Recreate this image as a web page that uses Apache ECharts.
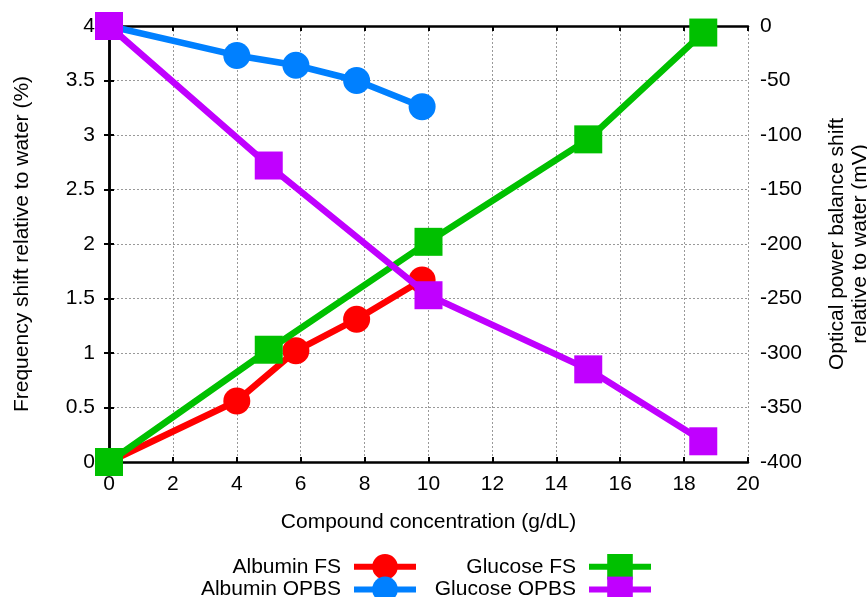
<!DOCTYPE html>
<html><head><meta charset="utf-8">
<script src="https://cdn.jsdelivr.net/npm/echarts@6/dist/echarts.min.js"></script>
<style>html,body{margin:0;padding:0;background:#fff}#c{width:867px;height:597px}</style>
</head><body><div id="c"></div>
<script>
const albuminX = [0, 4.0, 5.85, 7.75, 9.8];
const albuminFS = [0, 0.56, 1.02, 1.31, 1.67];
const albuminOPBS = [0, -27, -36, -50, -74];
const glucoseX = [0, 5, 10, 15, 18.6];
const glucoseFS = [0, 1.03, 2.02, 2.96, 3.94];
const glucoseOPBS = [0, -128, -247, -315, -381];
const names = ['Albumin FS', 'Albumin OPBS', 'Glucose FS', 'Glucose OPBS'];
const colors = ['#ff0000', '#0080ff', '#00c000', '#c000ff'];

const font = 'Liberation Sans, Arial, sans-serif';
const fs = 21;
const pair = (xs, ys) => xs.map((x, i) => [x, ys[i]]);
const mk = (i, xs, ys, yIdx, sym) => ({
  name: names[i], type: 'line', yAxisIndex: yIdx, data: pair(xs, ys),
  symbol: sym, symbolSize: sym === 'circle' ? 27 : 28,
  lineStyle: { color: colors[i], width: 6.5 },
  itemStyle: { color: colors[i] }, z: 2 + i, animation: false
});
const tickStyle = { show: true, inside: true, length: 5, lineStyle: { color: '#000', width: 2 } };
const legendCommon = {
  orient: 'vertical', align: 'right', top: 549, height: 100, itemWidth: 62, itemHeight: 32, itemGap: -3,
  lineStyle: { width: 6 },
  textStyle: { color: '#000', fontSize: fs, fontFamily: font, padding: [0, 8, 0, 0] }
};
const chart = echarts.init(document.getElementById('c'));
chart.setOption({
  animation: false,
  grid: { left: 109, right: 119, top: 26, bottom: 135, outerBoundsMode: 'none', containLabel: false },
  xAxis: [{
    type: 'value', min: 0, max: 20, interval: 2,
    axisLine: { lineStyle: { color: '#000', width: 2.5 } },
    axisTick: tickStyle,
    axisLabel: { color: '#000', fontSize: fs, fontFamily: font, margin: 12 },
    splitLine: { show: true, lineStyle: { color: '#999', type: [2, 2], width: 1 } },
    name: 'Compound concentration (g/dL)', nameLocation: 'middle', nameGap: 50,
    nameTextStyle: { color: '#000', fontSize: fs, fontFamily: font }
  }, {
    type: 'value', min: 0, max: 20, interval: 2, position: 'top',
    axisLine: { show: true, lineStyle: { color: '#000', width: 2.5 } },
    axisTick: tickStyle, axisLabel: { show: false }, splitLine: { show: false }
  }],
  yAxis: [{
    type: 'value', min: 0, max: 4, interval: 0.5, position: 'left',
    axisLine: { show: true, lineStyle: { color: '#000', width: 2.5 } },
    axisTick: tickStyle,
    axisLabel: { color: '#000', fontSize: fs, fontFamily: font, margin: 14 },
    splitLine: { show: true, lineStyle: { color: '#999', type: [2, 2], width: 1 } },
    name: 'Frequency shift relative to water (%)', nameLocation: 'middle', nameGap: 76,
    nameTextStyle: { color: '#000', fontSize: fs, fontFamily: font }
  }, {
    type: 'value', min: -400, max: 0, interval: 50, position: 'right',
    axisLine: { show: true, lineStyle: { color: '#000', width: 2.5 } },
    axisTick: tickStyle,
    axisLabel: { color: '#000', fontSize: fs, fontFamily: font, margin: 12 },
    splitLine: { show: false },
    name: 'Optical power balance shift\nrelative to water (mV)', nameLocation: 'middle', nameGap: 78, nameRotate: 90,
    nameTextStyle: { color: '#000', fontSize: fs, fontFamily: font, lineHeight: 23 }
  }],
  legend: [
    Object.assign({ data: [names[0], names[1]], right: 443 }, legendCommon),
    Object.assign({ data: [names[2], names[3]], right: 208 }, legendCommon)
  ],
  series: [
    mk(0, albuminX, albuminFS, 0, 'circle'),
    mk(1, albuminX, albuminOPBS, 1, 'circle'),
    mk(2, glucoseX, glucoseFS, 0, 'rect'),
    mk(3, glucoseX, glucoseOPBS, 1, 'rect')
  ]
});
</script></body></html>
